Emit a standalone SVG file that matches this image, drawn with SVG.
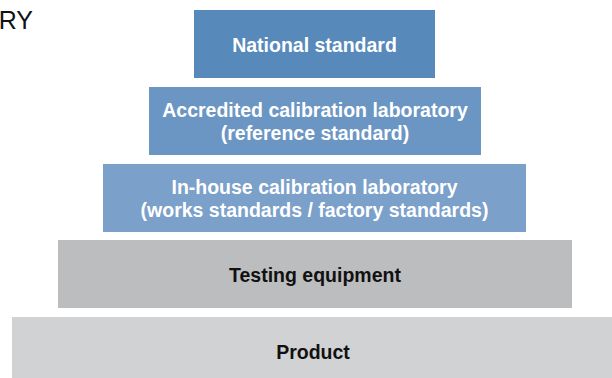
<svg xmlns="http://www.w3.org/2000/svg" width="612" height="378" viewBox="0 0 612 378">
<style>
.t{font-family:"Liberation Sans",Arial,sans-serif;font-weight:bold;font-size:19.5px;text-anchor:middle}
.w{fill:#ffffff}
.k{fill:#111111}
</style>
<rect width="612" height="378" fill="#ffffff"/>
<text x="33" y="29" font-family="Liberation Sans, Arial, sans-serif" font-size="25" text-anchor="end" fill="#111111">RY</text>
<g id="national">
<rect x="194" y="10" width="241" height="68" fill="#5789bb"/>
<text class="t w" x="314.5" y="51.5">National standard</text>
</g>
<g id="accredited">
<rect x="149" y="87" width="332" height="68" fill="#6b96c4"/>
<text class="t w" x="315" y="116.5">Accredited calibration laboratory</text>
<text class="t w" x="315" y="139.5">(reference standard)</text>
</g>
<g id="inhouse">
<rect x="103" y="164" width="423" height="68" fill="#7ba0ca"/>
<text class="t w" x="314.5" y="193.5">In-house calibration laboratory</text>
<text class="t w" x="314.5" y="216.5">(works standards / factory standards)</text>
</g>
<g id="testing">
<rect x="58" y="240" width="514" height="68" fill="#bcbdbf"/>
<text class="t k" x="315" y="282">Testing equipment</text>
</g>
<g id="product">
<rect x="12" y="317" width="600" height="61" fill="#d1d2d4"/>
<text class="t k" x="313" y="358.5">Product</text>
</g>
<g id="connectors"></g>
</svg>
